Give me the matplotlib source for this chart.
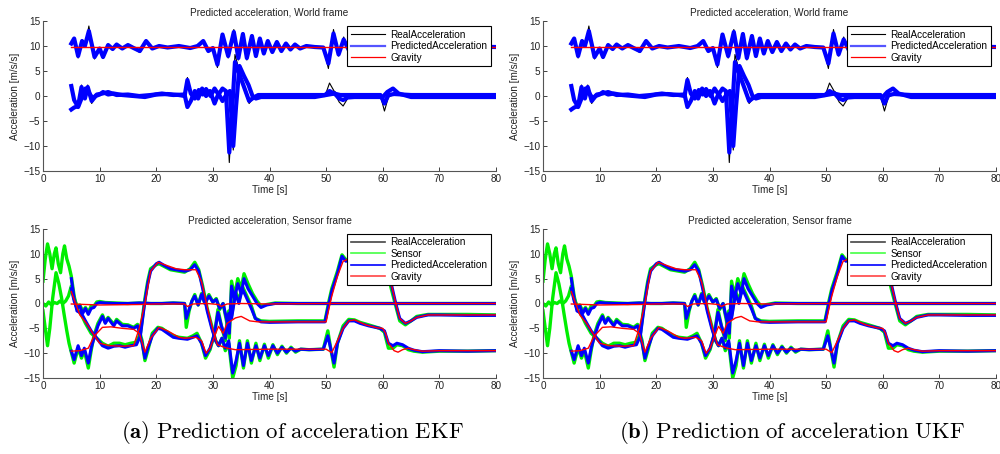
import matplotlib.pyplot as plt
from matplotlib.lines import Line2D

plt.rcParams['font.family'] = ['Liberation Sans', 'DejaVu Sans']
plt.rcParams['mathtext.fontset'] = 'cm'

# ---- world frame: vertical component (around g) ----
t_wz = [5.0, 5.5, 6.2, 6.9, 7.4, 8.1, 9.1, 10.0, 10.6, 11.5,
        12.3, 13.0, 14.0, 15.0, 16.0, 17.1, 18.2, 19.3, 20.5, 22.0,
        24.0, 26.0, 27.3, 28.3, 29.2, 30.0, 30.8, 31.7, 32.7, 33.7,
        34.5, 35.3, 36.0, 36.9, 37.6, 38.3, 39.0, 39.7, 40.5, 41.3,
        42.1, 42.9, 43.7, 44.5, 45.4, 46.5, 48.0, 49.5, 50.4, 51.3,
        52.2, 53.1, 54.0, 55.0, 57.0, 60.0, 62.0, 65.0, 70.0, 75.0,
        80.0]
pred_wz = [10.5, 11.5, 8.0, 11.0, 10.0, 13.0, 7.8, 9.5, 7.8, 10.2,
           9.4, 10.3, 9.5, 10.2, 9.6, 9.0, 11.0, 9.5, 10.0, 9.7,
           10.0, 9.6, 10.0, 11.0, 9.0, 9.6, 6.3, 12.3, 8.0, 12.8,
           7.6, 12.4, 7.6, 12.0, 8.0, 11.5, 8.5, 11.0, 8.8, 10.8,
           9.0, 10.5, 9.3, 10.3, 9.5, 10.0, 9.8, 9.7, 6.5, 12.5,
           8.3, 11.3, 9.2, 9.9, 9.8, 9.7, 9.9, 9.8, 9.8, 9.9,
           9.8]
real_wz = [10.3, 11.3, 7.6, 11.2, 9.8, 14.0, 7.4, 9.6, 7.5, 10.0,
           9.3, 10.4, 9.4, 10.3, 9.5, 8.7, 11.2, 9.4, 10.0, 9.7,
           10.0, 9.6, 10.0, 11.2, 8.8, 9.6, 5.7, 12.5, 7.6, 13.3,
           7.2, 12.7, 7.2, 12.2, 7.8, 11.7, 8.3, 11.1, 8.7, 10.9,
           8.9, 10.6, 9.2, 10.3, 9.5, 10.0, 9.8, 9.7, 5.5, 13.3,
           8.0, 11.8, 9.0, 9.9, 9.8, 9.7, 9.9, 9.8, 9.8, 9.9,
           9.8]

# ---- world frame: horizontal components ----
t_w1 = [5.0, 5.5, 6.2, 6.8, 7.4, 7.9, 8.6, 9.3, 10.0, 10.6,
        11.5, 12.5, 14.0, 16.0, 18.0, 20.0, 22.0, 24.0, 25.0, 25.5,
        26.1, 26.8, 27.5, 28.2, 28.8, 29.6, 30.3, 31.0, 31.7, 32.3,
        32.9, 33.4, 33.9, 34.8, 35.6, 36.4, 37.2, 38.0, 40.0, 45.0,
        49.8, 50.6, 51.4, 52.5, 55.0, 59.6, 60.3, 61.0, 62.0, 65.0,
        70.0, 75.0, 80.0]
pred_w1 = [-2.7, -2.3, -2.0, 1.8, -0.5, 1.8, -1.0, 0.0, 0.3, 0.8,
           0.3, 0.5, 0.2, 0.0, -0.2, 0.3, 0.4, 0.2, 0.0, 3.2,
           0.5, -0.5, 1.2, 0.3, 1.4, 0.0, 1.5, 0.3, 1.5, 1.0,
           -11.3, -3.0, 6.8, 4.0, 1.5, -1.0, -0.3, 0.2, 0.2, 0.2,
           0.2, 1.0, 0.5, 0.2, 0.2, 0.2, -1.5, 0.2, 0.4, 0.2,
           0.2, 0.2, 0.2]
real_w1 = [-2.5, -2.3, -2.3, 2.2, -0.5, 2.2, -1.5, 0.0, 0.2, 0.8,
           0.3, 0.5, 0.2, 0.0, -0.2, 0.3, 0.4, 0.2, 0.0, 3.7,
           0.5, -0.7, 1.4, 0.3, 1.5, 0.0, 1.7, 0.2, 1.6, 1.0,
           -13.3, -3.0, 8.3, 4.5, 1.0, -1.5, -0.3, 0.0, 0.0, 0.0,
           0.0, 2.6, 1.0, 0.0, 0.0, 0.0, -3.0, -0.2, 0.3, 0.0,
           0.0, 0.0, 0.0]

t_w2 = [5.0, 5.5, 6.2, 6.8, 7.5, 8.2, 8.8, 9.5, 10.5, 11.5,
        13.0, 15.0, 17.0, 19.0, 21.0, 23.0, 25.0, 25.5, 26.1, 26.8,
        27.4, 28.1, 28.8, 29.5, 30.3, 31.0, 31.7, 32.5, 33.0, 33.6,
        34.1, 34.7, 35.5, 36.3, 37.0, 37.6, 38.5, 42.0, 48.0, 50.5,
        51.5, 52.3, 53.0, 53.8, 55.0, 60.0, 60.8, 61.8, 62.8, 65.0,
        70.0, 75.0, 80.0]
pred_w2 = [2.0, -0.8, -2.2, -0.5, 1.5, 0.5, -0.5, 0.3, 0.5, 0.8,
           0.2, 0.3, 0.0, 0.2, 0.5, 0.2, 0.3, -2.2, -1.0, 1.0,
           -0.5, 1.5, 0.0, 1.0, -1.5, 0.5, -1.0, 0.5, 1.0, -10.0,
           -2.0, 6.0, 4.0, 2.2, 0.0, -0.5, -0.2, -0.2, -0.2, 0.3,
           0.5, -0.5, -0.8, -0.3, -0.2, -0.2, 0.8, 1.5, 0.5, -0.2,
           -0.2, -0.2, -0.2]
real_w2 = [2.0, -0.8, -2.4, -0.5, 1.6, 0.5, -0.7, 0.3, 0.5, 0.8,
           0.2, 0.3, 0.0, 0.2, 0.5, 0.2, 0.3, -2.4, -1.0, 1.0,
           -0.6, 1.6, 0.0, 1.0, -1.7, 0.5, -1.1, 0.5, 1.0, -10.8,
           -2.0, 6.3, 3.8, 2.0, 0.0, -0.6, 0.0, 0.0, 0.0, 0.3,
           0.6, -1.2, -2.0, -0.5, 0.0, 0.0, 1.0, 1.7, 0.5, 0.0,
           0.0, 0.0, 0.0]

t_gw = [5.0, 80.0]
grav_w = [9.81, 9.81]

# ---- sensor frame, component A ----
t_a = [5.0, 5.5, 6.0, 6.8, 7.5, 8.5, 9.5, 10.5, 11.5, 12.5,
       13.5, 14.5, 15.5, 16.5, 17.2, 18.0, 18.5, 19.0, 20.0, 20.5,
       21.5, 22.5, 23.5, 25.0, 26.0, 26.8, 27.5, 28.2, 29.0, 29.8,
       30.5, 31.0, 31.6, 32.2, 32.8, 33.5, 34.1, 34.7, 35.4, 36.1,
       36.8, 37.6, 38.3, 39.1, 39.8, 40.6, 41.4, 42.2, 43.0, 43.8,
       44.6, 45.5, 47.0, 49.5, 50.3, 50.8, 51.4, 52.0, 53.0, 54.0,
       55.0, 56.0, 57.5, 59.5, 60.3, 61.0, 61.8, 62.5, 63.5, 64.5,
       65.5, 67.0, 70.0, 75.0, 80.0]
pred_a = [5.0, 1.0, -1.5, -2.0, -3.5, -5.5, -7.0, -8.5, -9.0, -8.6,
          -8.5, -8.8, -8.5, -8.3, -6.5, 0.5, 4.0, 6.5, 8.0, 8.3,
          7.6, 7.0, 6.8, 6.5, 6.8, 7.8, 6.5, 3.0, -1.5, -5.0,
          -7.5, -8.5, -7.0, -9.0, -7.5, -14.0, -11.5, -8.0, -12.5, -8.0,
          -11.5, -8.5, -11.0, -8.5, -10.5, -8.5, -10.0, -8.8, -9.8, -9.0,
          -9.6, -9.2, -9.3, -9.2, -6.5, -9.0, -12.0, -8.0, -5.0, -3.5,
          -3.5, -4.0, -4.5, -5.0, -5.5, -8.0, -8.5, -8.0, -8.3, -9.0,
          -9.4, -9.7, -9.5, -9.6, -9.5]
t_a0 = [0.0, 0.4, 0.8, 1.2, 1.6, 2.0, 2.3, 2.7, 3.1, 3.5, 3.8, 4.2, 4.6]
sens_a = [4.5, 9.0, 12.0, 10.0, 7.0, 10.0, 11.2, 8.0, 6.2, 10.0, 11.6, 9.0, 7.5,
          5.5, 1.5, -1.0, -2.3, -4.0, -6.0, -7.0, -8.0, -8.6, -8.0,
          -8.0, -8.3, -8.0, -7.8, -6.0, 1.0, 4.5, 7.0, 7.8, 8.0,
          7.4, 6.8, 6.6, 6.3, 7.0, 8.3, 6.8, 3.5, -1.0, -4.5,
          -7.5, -8.5, -7.0, -9.5, -8.0, -15.0, -12.5, -7.5, -13.0, -7.5,
          -12.0, -8.0, -11.5, -8.2, -11.0, -8.3, -10.3, -8.6, -10.0, -8.8,
          -9.8, -9.2, -9.3, -9.2, -5.5, -9.0, -12.8, -8.0, -4.5, -3.2,
          -3.3, -3.8, -4.3, -5.0, -5.8, -9.0, -9.0, -8.3, -8.5, -9.3,
          -9.6, -9.8, -9.6, -9.6, -9.5]
t_ga = [5.0, 6.5, 7.7, 8.8, 10.0, 11.8, 14.0, 16.0, 17.0, 18.0,
        19.0, 20.3, 22.0, 23.5, 25.0, 27.0, 28.0, 29.0, 30.0, 30.8,
        31.5, 32.5, 34.0, 40.0, 50.0, 51.0, 52.0, 53.0, 54.0, 55.0,
        56.0, 57.0, 59.0, 60.0, 60.5, 61.0, 62.0, 62.7, 63.5, 64.5,
        65.5, 67.0, 70.0, 80.0]
grav_a = [2.4, -2.3, -4.0, -6.0, -8.0, -8.5, -8.6, -8.5, -5.0, 0.0,
          6.5, 8.3, 7.6, 7.0, 6.8, 6.8, 4.4, -0.6, -5.3, -8.3,
          -8.6, -9.0, -9.3, -9.2, -9.2, -9.9, -7.5, -5.0, -3.5, -3.3,
          -3.8, -4.3, -4.9, -5.0, -6.0, -8.0, -9.5, -9.8, -9.3, -9.0,
          -9.3, -9.6, -9.5, -9.5]

# ---- sensor frame, component B ----
t_b = [5.0, 5.5, 6.0, 6.5, 7.0, 7.5, 8.0, 8.5, 9.0, 9.5,
       10.0, 11.0, 13.0, 15.0, 17.0, 19.0, 21.0, 23.0, 25.0, 25.3,
       25.8, 26.3, 26.8, 27.4, 28.0, 28.6, 29.3, 30.0, 30.6, 31.2,
       31.8, 32.4, 32.9, 33.3, 33.8, 34.4, 35.0, 35.5, 36.2, 37.0,
       37.8, 38.5, 39.5, 41.0, 45.0, 50.0, 55.0, 60.0, 65.0, 70.0,
       75.0, 80.0]
pred_b = [3.0, 0.5, -1.0, -0.5, -2.0, -1.0, -2.2, -1.0, -0.8, 0.0,
          0.2, 0.1, 0.0, 0.0, 0.1, 0.0, 0.0, 0.1, 0.0, -3.0,
          -1.2, 0.5, 1.5, -0.3, 1.8, 0.0, 1.5, 0.3, 0.8, -1.0,
          0.0, -3.0, -6.0, 3.5, 1.0, 4.0, 2.0, 5.0, 3.0, 1.5,
          0.0, -0.8, -0.3, 0.0, 0.0, 0.0, 0.0, 0.0, 0.0, 0.0,
          0.0, 0.0]
t_b0 = [0.0, 0.5, 1.0, 1.5, 2.0, 2.5, 3.0, 3.5, 4.0, 4.5]
sens_b = [0.0, -0.5, 0.3, -0.3, 0.2, 0.0, 0.5, 0.0, 0.5, 1.5,
          3.5, 1.0, -0.5, -0.3, -1.5, -0.8, -1.8, -0.5, -0.5, 0.3,
          0.4, 0.2, 0.1, 0.0, 0.1, 0.0, 0.0, 0.1, 0.0, -4.8,
          -1.5, 0.5, 1.8, -0.3, 2.0, 0.0, 1.8, 0.3, 1.0, -1.2,
          0.0, -3.5, -7.0, 4.5, 1.5, 5.0, 3.0, 6.0, 4.0, 2.0,
          0.5, -0.5, -0.2, 0.1, 0.0, 0.0, 0.0, 0.0, 0.0, 0.0,
          0.0, 0.0]
t_gb = [5.0, 10.0, 17.0, 20.0, 25.0, 25.5, 26.5, 29.0, 31.0, 31.5,
        32.5, 35.0, 40.0, 50.0, 60.0, 70.0, 80.0]
grav_b = [-0.1, -0.3, -0.2, -0.1, -0.1, -0.6, -0.1, 0.0, -0.2, -0.6,
          -0.1, 0.0, -0.1, 0.0, 0.0, 0.0, 0.0]

# ---- sensor frame, component C ----
t_c = [5.0, 5.5, 6.2, 6.8, 7.3, 8.0, 8.5, 9.0, 9.7, 10.5,
       11.0, 11.5, 12.5, 13.0, 14.0, 15.0, 16.0, 16.7, 17.5, 18.0,
       18.5, 19.3, 20.3, 21.0, 22.0, 23.0, 24.0, 25.5, 26.5, 27.2,
       28.0, 28.7, 29.5, 30.3, 30.9, 31.5, 32.2, 32.8, 33.3, 34.0,
       34.6, 35.2, 36.0, 36.8, 37.5, 38.5, 40.0, 45.0, 49.8, 50.5,
       51.0, 52.0, 52.8, 53.5, 54.3, 55.0, 56.0, 57.5, 59.0, 60.0,
       60.8, 61.5, 62.3, 63.0, 64.0, 65.0, 66.0, 68.0, 70.0, 75.0,
       80.0]
pred_c = [-9.6, -11.3, -8.5, -10.5, -9.0, -12.0, -9.0, -7.0, -4.5, -2.6,
          -4.0, -3.0, -4.5, -3.5, -4.5, -4.5, -5.0, -4.5, -8.0, -11.0,
          -9.0, -6.5, -5.0, -5.2, -6.0, -6.8, -7.0, -7.2, -6.8, -6.5,
          -8.0, -10.5, -9.0, -6.0, -1.8, -4.5, -7.0, -2.0, -3.0, 2.0,
          0.0, 3.0, 1.0, -1.0, -3.0, -3.7, -3.8, -3.7, -3.7, 0.0,
          2.5, 6.0, 9.5, 8.5, 9.0, 9.0, 9.0, 9.0, 9.0, 9.0,
          7.0, 4.0, 0.0, -3.0, -4.0, -3.5, -2.8, -2.3, -2.3, -2.4,
          -2.4]
t_c0 = [0.0, 0.4, 0.8, 1.2, 1.7, 2.3, 2.8, 3.3, 3.7, 4.2, 4.6]
sens_c = [-1.5, -5.0, -8.5, -5.0, 1.0, 6.2, 4.0, 1.0, -2.0, -5.5, -8.0,
          -9.8, -12.0, -9.0, -11.0, -9.5, -13.0, -9.5, -6.5, -4.0, -2.3,
          -3.8, -2.8, -4.2, -3.2, -4.2, -4.3, -4.8, -4.2, -7.5, -11.5,
          -9.5, -6.0, -4.8, -5.0, -5.8, -6.5, -6.8, -7.0, -6.5, -6.0,
          -8.0, -11.0, -9.3, -6.0, -1.2, -4.5, -7.5, -1.5, -2.5, 2.5,
          0.5, 3.5, 1.5, -0.5, -3.0, -3.5, -3.6, -3.5, -3.5, 0.5,
          3.0, 6.5, 9.8, 8.8, 9.0, 9.0, 9.0, 9.0, 9.0, 8.8,
          6.5, 3.0, -0.5, -3.5, -4.3, -3.5, -2.6, -2.2, -2.2, -2.2,
          -2.3]
t_gc = [5.0, 6.5, 8.0, 9.0, 10.5, 12.0, 14.0, 16.0, 17.0, 18.0,
        19.0, 20.5, 22.0, 24.0, 25.0, 27.0, 28.0, 28.8, 29.5, 30.5,
        31.0, 31.8, 32.5, 34.0, 35.0, 36.5, 38.0, 50.0, 50.5, 51.0,
        52.0, 53.0, 54.0, 60.0, 60.8, 61.5, 62.3, 63.0, 64.0, 65.0,
        66.0, 68.0, 80.0]
grav_c = [-9.6, -9.5, -9.0, -6.6, -4.8, -4.7, -5.0, -5.2, -6.0, -9.8,
          -7.0, -4.8, -5.5, -6.8, -7.0, -6.8, -7.5, -10.0, -9.0, -6.0,
          -4.6, -6.0, -4.0, -2.9, -2.6, -3.5, -3.7, -3.7, -1.0, 1.5,
          5.5, 8.5, 9.0, 9.0, 7.0, 4.0, 0.0, -3.0, -4.0, -3.5,
          -2.8, -2.3, -2.3]

captions = [r'$\mathbf{(a)}\ \mathrm{Prediction\ of\ acceleration\ EKF}$',
            r'$\mathbf{(b)}\ \mathrm{Prediction\ of\ acceleration\ UKF}$']

FS = 7.2
BLUE = '#0000ff'
GREEN = '#00ee00'
RED = '#ff0000'


def style_axes(ax, title):
    ax.set_xlim(0, 80)
    ax.set_ylim(-15, 15)
    ax.set_xticks(range(0, 81, 10))
    ax.set_yticks(range(-15, 16, 5))
    ax.spines['top'].set_visible(False)
    ax.spines['right'].set_visible(False)
    for s in ('left', 'bottom'):
        ax.spines[s].set_color('#555555')
        ax.spines[s].set_linewidth(0.8)
    ax.tick_params(direction='in', length=3, width=0.6, labelsize=FS,
                   pad=2, colors='#222222')
    ax.set_title(title, fontsize=FS, pad=4, color='#222222')
    ax.set_xlabel('Time [s]', fontsize=FS, labelpad=1, color='#222222')
    ax.set_ylabel('Acceleration [m/s/s]', fontsize=FS, labelpad=2,
                  color='#222222')


def world_panel(ax):
    ax.plot(t_wz, real_wz, color='k', lw=0.8)
    ax.plot(t_w1, real_w1, color='k', lw=0.8)
    ax.plot(t_w2, real_w2, color='k', lw=0.8)
    ax.plot(t_wz, pred_wz, color=BLUE, lw=3.0)
    ax.plot(t_w1, pred_w1, color=BLUE, lw=3.0)
    ax.plot(t_w2, pred_w2, color=BLUE, lw=3.0)
    ax.plot(t_gw, grav_w, color=RED, lw=1.0)
    style_axes(ax, 'Predicted acceleration, World frame')
    handles = [Line2D([], [], color='k', lw=0.8),
               Line2D([], [], color='#5555ff', lw=1.6),
               Line2D([], [], color=RED, lw=0.9)]
    labels = ['RealAcceleration', 'PredictedAcceleration', 'Gravity']
    leg = ax.legend(handles, labels, loc='upper right', fontsize=FS,
                    fancybox=False, framealpha=1, edgecolor='k',
                    handlelength=3.4, labelspacing=0.15, borderpad=0.35,
                    handletextpad=0.6, borderaxespad=0.5)
    leg.get_frame().set_linewidth(0.8)


def sensor_panel(ax):
    # ground truth sits under the estimate in the sensor frame
    ax.plot(t_a, pred_a, color='k', lw=0.8)
    ax.plot(t_b, pred_b, color='k', lw=0.8)
    ax.plot(t_c, pred_c, color='k', lw=0.8)
    ax.plot(t_a0 + t_a, sens_a, color=GREEN, lw=2.4)
    ax.plot(t_b0 + t_b, sens_b, color=GREEN, lw=2.4)
    ax.plot(t_c0 + t_c, sens_c, color=GREEN, lw=2.4)
    ax.plot(t_a, pred_a, color=BLUE, lw=2.2)
    ax.plot(t_b, pred_b, color=BLUE, lw=2.2)
    ax.plot(t_c, pred_c, color=BLUE, lw=2.2)
    ax.plot(t_ga, grav_a, color=RED, lw=1.0)
    ax.plot(t_gb, grav_b, color=RED, lw=1.0)
    ax.plot(t_gc, grav_c, color=RED, lw=1.0)
    style_axes(ax, 'Predicted acceleration, Sensor frame')
    handles = [Line2D([], [], color='#444444', lw=1.2),
               Line2D([], [], color='#44ff44', lw=1.2),
               Line2D([], [], color=BLUE, lw=1.2),
               Line2D([], [], color='#ff4444', lw=1.2)]
    labels = ['RealAcceleration', 'Sensor', 'PredictedAcceleration',
              'Gravity']
    leg = ax.legend(handles, labels, loc='upper right', fontsize=FS,
                    fancybox=False, framealpha=1, edgecolor='k',
                    handlelength=3.4, labelspacing=0.15, borderpad=0.35,
                    handletextpad=0.6, borderaxespad=0.5)
    leg.get_frame().set_linewidth(0.8)


fig = plt.figure(figsize=(10, 4.54), dpi=100)
for col, left in enumerate([0.043, 0.543]):
    ax_top = fig.add_axes([left, 0.6233, 0.453, 0.3304])
    ax_bot = fig.add_axes([left, 0.1674, 0.453, 0.3282])
    world_panel(ax_top)
    sensor_panel(ax_bot)
    fig.text(left + 0.2265 + 0.023, 0.047, captions[col], ha='center',
             va='center', fontsize=16.4)

fig.savefig('out.png', dpi=100)
